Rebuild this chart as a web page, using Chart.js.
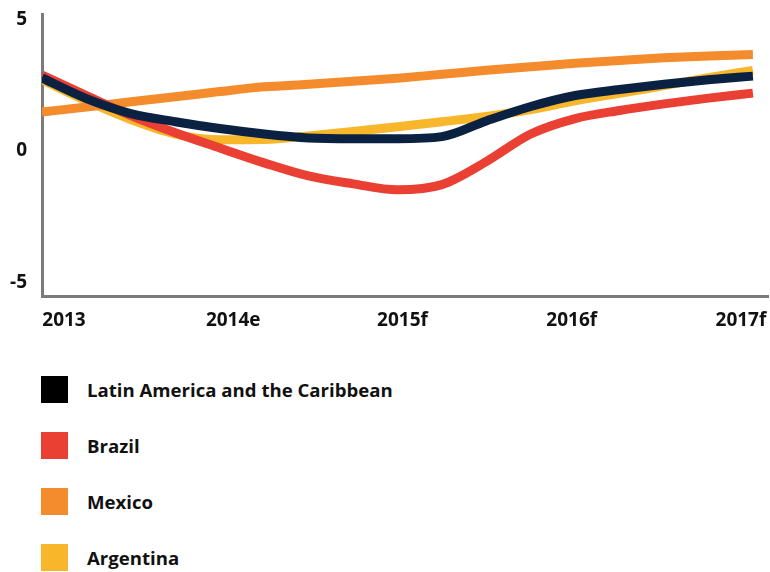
<!DOCTYPE html>
<html>
<head>
<meta charset="utf-8">
<script src="https://cdn.jsdelivr.net/npm/chart.js@4.4.1/dist/chart.umd.min.js"></script>
<style>
  html, body { margin: 0; padding: 0; background: #fff; }
  body { width: 770px; height: 572px; position: relative; overflow: hidden; font-family: "Open Sans", sans-serif; }
  #wrap { position: absolute; left: 0; top: 0; width: 770px; height: 336px; }
  #legend { position: absolute; left: 41px; top: 376px; margin: 0; padding: 0; list-style: none; }
  #legend li { display: flex; align-items: center; height: 27px; margin-bottom: 29px; font-weight: 700; font-size: 18.6px; color: #111; white-space: nowrap; }
  #legend .sw { width: 27px; height: 27px; margin-right: 19px; flex: none; }
</style>
</head>
<body>
<div id="wrap"><canvas id="c"></canvas></div>
<ul id="legend"></ul>
<script>
// Year labels along the bottom axis
const yearLabels = ['2013', '2014e', '2015f', '2016f', '2017f'];

// Quarterly positions (years since 2013) at which the growth curves are sampled
const quarters = [0, 0.25, 0.5, 0.75, 1, 1.25, 1.5, 1.75, 2, 2.25, 2.5, 2.75, 3, 3.25, 3.5, 3.75, 4];

// GDP growth, %
const latinAmerica = [2.79, 2.00, 1.43, 1.12, 0.86, 0.65, 0.50, 0.47, 0.47, 0.55, 1.15, 1.70, 2.12, 2.35, 2.55, 2.72, 2.86];
const brazil       = [2.90, 2.12, 1.35, 0.70, 0.12, -0.45, -0.95, -1.25, -1.48, -1.28, -0.40, 0.65, 1.24, 1.55, 1.80, 2.02, 2.21];
const mexico       = [1.49, 1.68, 1.88, 2.07, 2.27, 2.45, 2.55, 2.66, 2.78, 2.93, 3.08, 3.22, 3.35, 3.46, 3.56, 3.63, 3.68];
const argentina    = [2.72, 1.92, 1.20, 0.65, 0.43, 0.44, 0.58, 0.75, 0.93, 1.12, 1.32, 1.58, 1.92, 2.20, 2.50, 2.80, 3.08];

const seriesNames = ['Latin America and the Caribbean', 'Brazil', 'Mexico', 'Argentina'];
const seriesValues = [latinAmerica, brazil, mexico, argentina];
const lineColors = ['#0b2142', '#ea4033', '#f48b2c', '#f8b62a'];
const keyColors  = ['#000000', '#ea4033', '#f48b2c', '#f8b62a'];

const yTicks = [-5, 0, 5];

const datasets = seriesNames.map((name, i) => ({
  label: name,
  data: quarters.map((q, j) => ({ x: q, y: seriesValues[i][j] })),
  borderColor: lineColors[i],
  backgroundColor: lineColors[i],
  borderWidth: 9,
  pointRadius: 0,
  pointHoverRadius: 0,
  cubicInterpolationMode: 'monotone',
  borderCapStyle: 'butt',
  borderJoinStyle: 'round',
  fill: false
}));

const axisFont = { family: '"Open Sans", sans-serif', size: 19, weight: '700' };

// Keep the plot edges where the layout puts them, without extra room for tick labels
const noEdgePadding = (s) => { s.paddingTop = 0; s.paddingBottom = 0; s.paddingLeft = 0; s.paddingRight = 0; };

new Chart(document.getElementById('c'), {
  type: 'line',
  data: { datasets },
  options: {
    responsive: true,
    maintainAspectRatio: false,
    animation: false,
    events: [],
    layout: { padding: { top: 14, right: 2, left: 0, bottom: 0 } },
    plugins: { legend: { display: false }, tooltip: { enabled: false } },
    scales: {
      x: {
        type: 'linear',
        position: 'bottom',
        weight: 0,
        min: 0,
        max: 4.085,
        grid: { display: false, drawTicks: false },
        border: { display: true, color: '#7b7b7b', width: 3 },
        ticks: { display: false },
        afterFit: (s) => { s.height = 0; noEdgePadding(s); }
      },
      years: {
        type: 'linear',
        position: 'bottom',
        weight: 1,
        min: -0.13,
        max: 4.16,
        grid: { display: false, drawTicks: false },
        border: { display: false },
        afterBuildTicks: (s) => { s.ticks = yearLabels.map((_, i) => ({ value: i })); },
        ticks: {
          padding: 13,
          color: '#111',
          font: axisFont,
          maxRotation: 0,
          autoSkip: false,
          callback: (v) => yearLabels[v]
        },
        afterFit: (s) => { s.height = 40; noEdgePadding(s); }
      },
      y: {
        type: 'linear',
        min: -5.53,
        max: 5.23,
        grid: { display: false, drawTicks: false },
        border: { display: true, color: '#7b7b7b', width: 3 },
        afterBuildTicks: (s) => { s.ticks = yTicks.map(v => ({ value: v })); },
        ticks: {
          padding: 15,
          color: '#111',
          font: axisFont,
          callback: (v) => String(v)
        },
        afterFit: (s) => { s.width = 42; noEdgePadding(s); }
      }
    }
  }
});

// Series key below the plot
const legend = document.getElementById('legend');
seriesNames.forEach((name, i) => {
  const li = document.createElement('li');
  const sw = document.createElement('span');
  sw.className = 'sw';
  sw.style.background = keyColors[i];
  li.appendChild(sw);
  li.appendChild(document.createTextNode(name));
  legend.appendChild(li);
});
</script>
</body>
</html>
